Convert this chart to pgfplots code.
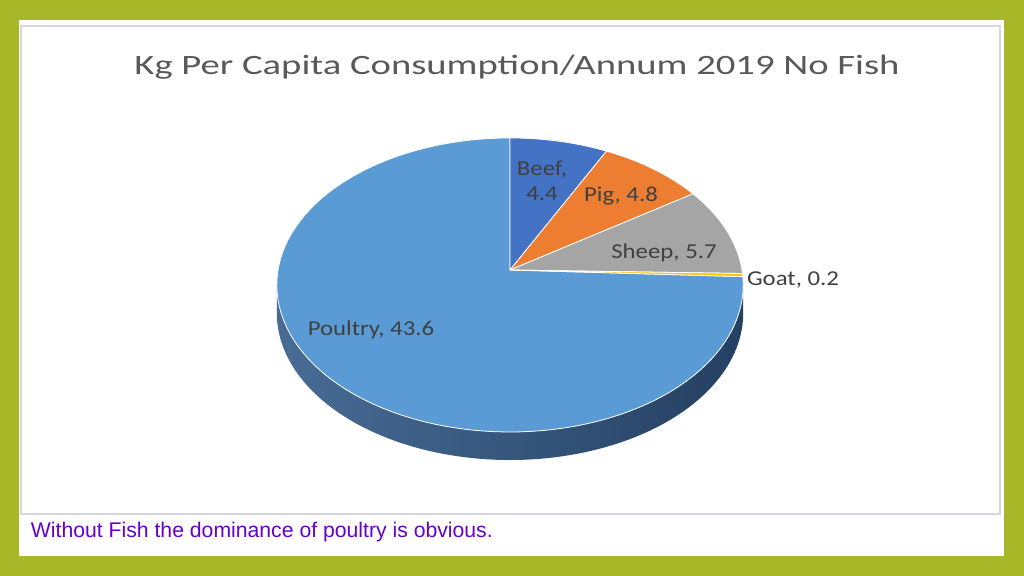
\documentclass[border=0pt]{standalone}
\usepackage{fontspec}
\setmainfont{Carlito}
\newfontfamily\arialfont{Liberation Sans}
\usepackage{pgfplots}
\pgfplotsset{compat=1.18}
\usepackage{pgfplotstable}
\definecolor{slidegreen}{RGB}{166,183,40}
\definecolor{framegray}{RGB}{214,214,222}
\definecolor{titlegray}{RGB}{89,89,89}
\definecolor{labelgray}{RGB}{64,64,64}
\definecolor{beef}{RGB}{68,114,196}
\definecolor{pig}{RGB}{237,125,49}
\definecolor{sheep}{RGB}{165,165,165}
\definecolor{goat}{RGB}{255,192,0}
\definecolor{poultry}{RGB}{91,155,213}
\definecolor{sideL}{RGB}{72,108,150}
\definecolor{sideM}{RGB}{28,50,80}
\definecolor{sideR}{RGB}{36,64,98}
\definecolor{footpurple}{RGB}{102,0,204}

% kg per capita per annum, 2019
\pgfplotstableread{
name value
Beef 4.4
Pig 4.8
Sheep 5.7
Goat 0.2
Poultry 43.6
}\piedata

% one slice of the top face, from angle #1 down to angle #2 (clockwise)
\newcommand\pieslice[3]{%
  \addplot[fill=#3, draw=white, line width=0.4pt, line join=round,
    domain=-0.05:1.05, samples=111, variable=\u]
  ({(\u<-0.025 || \u>1.025) ? 510 : px(#2+(#1-#2)*min(1,max(0,\u)))},
   {(\u<-0.025 || \u>1.025) ? 270 : py(#2+(#1-#2)*min(1,max(0,\u)))});
}

\tikzset{lbl/.style={inner sep=0pt, text=labelgray,
    font=\fontsize{10.6}{12}\selectfont, xscale=1.17, anchor=base}}

\begin{document}
\begin{tikzpicture}
\pgfplotstablegetelem{0}{value}\of\piedata \let\vA\pgfplotsretval
\pgfplotstablegetelem{1}{value}\of\piedata \let\vB\pgfplotsretval
\pgfplotstablegetelem{2}{value}\of\piedata \let\vC\pgfplotsretval
\pgfplotstablegetelem{3}{value}\of\piedata \let\vD\pgfplotsretval
\pgfplotstablegetelem{4}{value}\of\piedata \let\vE\pgfplotsretval
\pgfmathsetmacro\tot{\vA+\vB+\vC+\vD+\vE}
\pgfmathsetmacro\aA{90}
\pgfmathsetmacro\aB{\aA-360*\vA/\tot}
\pgfmathsetmacro\aC{\aB-360*\vB/\tot}
\pgfmathsetmacro\aD{\aC-360*\vC/\tot}
\pgfmathsetmacro\aE{\aD-360*\vD/\tot}
\pgfmathsetmacro\aF{\aE-360*\vE/\tot}

% slide background, in pixels from the top left
\begin{scope}[x=0.5pt, y=-0.5pt, shift={(0,288pt)}]
  \fill[slidegreen] (0,0) rectangle (1024,576);
  \fill[white] (19,20) rectangle (1004,556);
  \draw[framegray, line width=1pt] (21,26) rectangle (1000,514);
\end{scope}

\begin{axis}[
  at={(0pt,0pt)}, anchor=south west,
  scale only axis, width=512pt, height=288pt,
  xmin=0, xmax=1024, ymin=0, ymax=576, y dir=reverse,
  hide axis,
  declare function={
    px(\t)=510+232*cos(\t)/(1+0.102*sin(\t));
    py(\t)=270-145.5*sin(\t)/(1+0.102*sin(\t));
  },
]
% side wall of the 3D pie (front half)
\addplot[draw=none, left color=sideL, middle color=sideM, right color=sideR,
  domain=0:2, samples=201, variable=\u]
  ({px((\u<=1) ? (185.855+168.29*\u) : (354.145-168.29*(\u-1)))},
   {py((\u<=1) ? (185.855+168.29*\u) : (354.145-168.29*(\u-1))) + ((\u>1) ? 28 : 0)});

\pieslice{\aE}{\aF}{poultry}
\pieslice{\aA}{\aB}{beef}
\pieslice{\aB}{\aC}{pig}
\pieslice{\aC}{\aD}{sheep}
\pieslice{\aD}{\aE}{goat}

\node[lbl] at (axis cs:542,176) {Beef,};
\node[lbl] at (axis cs:542,201) {4.4};
\node[lbl] at (axis cs:621,202) {Pig, 4.8};
\node[lbl] at (axis cs:664,259) {Sheep, 5.7};
\node[lbl] at (axis cs:793,286) {Goat, 0.2};
\node[lbl] at (axis cs:371,336) {Poultry, 43.6};
\end{axis}

\begin{scope}[x=0.5pt, y=-0.5pt, shift={(0,288pt)}]
  \node[anchor=base, inner sep=0pt, xscale=1.38, text=titlegray,
    font=\fontsize{14}{16}\selectfont] at (517,75)
    {Kg Per Capita Consumption/Annum 2019 No Fish};
  \node[anchor=base west, inner sep=0pt, text=footpurple,
    font=\arialfont\fontsize{10.6}{12}\selectfont] at (30.5,538)
    {Without Fish the dominance of poultry is obvious.};
\end{scope}
\end{tikzpicture}
\end{document}
